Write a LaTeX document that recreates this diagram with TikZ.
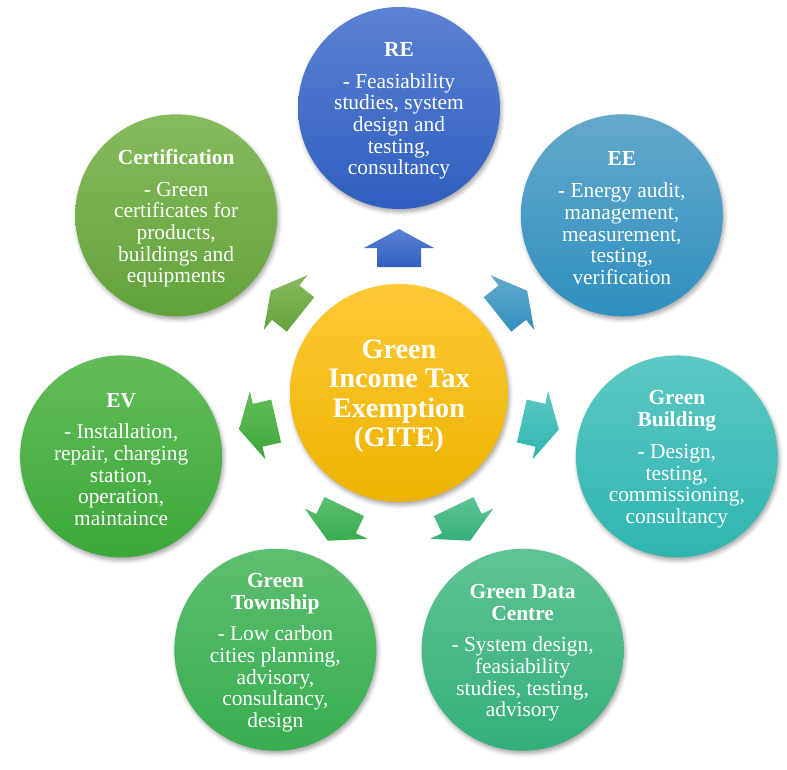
\documentclass[tikz,border=0pt]{standalone}
\usepackage{fontspec}
\setmainfont{Liberation Serif}
\usetikzlibrary{calc,shadows.blur}
\definecolor{reT}{HTML}{5B83D3}\definecolor{reB}{HTML}{2E5EBF}
\definecolor{eeT}{HTML}{63A9CC}\definecolor{eeB}{HTML}{2F8FBF}
\definecolor{gbT}{HTML}{5CC8C3}\definecolor{gbB}{HTML}{2FB5B0}
\definecolor{gdT}{HTML}{60C494}\definecolor{gdB}{HTML}{33AF7A}
\definecolor{gtT}{HTML}{5DBF71}\definecolor{gtB}{HTML}{38AD4E}
\definecolor{evT}{HTML}{63BC59}\definecolor{evB}{HTML}{3CA839}
\definecolor{ceT}{HTML}{87BB5D}\definecolor{ceB}{HTML}{62A23A}
\definecolor{cT}{HTML}{FFC935}\definecolor{cB}{HTML}{ECB300}
\begin{document}
\begin{tikzpicture}[x=1pt,y=-1pt,
  bubble/.style={circle, minimum size=202pt, inner sep=0pt,
    blur shadow={shadow xshift=1.5pt, shadow yshift=-3pt, shadow blur radius=4pt, shadow opacity=35}},
  hub/.style={bubble, minimum size=218pt},
  bubbletext/.style={text=white, align=center, inner sep=0pt, font=\fontsize{21.4}{21.7}\selectfont},
  hubtext/.style={bubbletext, font=\bfseries\fontsize{28.3}{29.5}\selectfont},
  blockarrow/.style={draw=none}]
\useasboundingbox (0,0) rectangle (787,769);
\node[hub, top color=cT, bottom color=cB] (c) at (399,393) {};
\node[hubtext] (c-t) at ([yshift=-3pt]c.center) {Green\\Income Tax\\Exemption\\(GITE)};
\node[bubble, top color=reT, bottom color=reB] (re) at ($(c)+(90:285pt)$) {};
\node[bubble, top color=eeT, bottom color=eeB] (ee) at ($(c)+(38.571:285pt)$) {};
\node[bubble, top color=gbT, bottom color=gbB] (gb) at ($(c)+(-12.857:285pt)$) {};
\node[bubble, top color=gdT, bottom color=gdB] (gd) at ($(c)+(-64.286:285pt)$) {};
\node[bubble, top color=gtT, bottom color=gtB] (gt) at ($(c)+(-115.714:285pt)$) {};
\node[bubble, top color=evT, bottom color=evB] (ev) at ($(c)+(-167.143:285pt)$) {};
\node[bubble, top color=ceT, bottom color=ceB] (ce) at ($(c)+(141.429:285pt)$) {};
\node[bubbletext] (re-t) at ([yshift=-3pt]re.center)
  {\textbf{RE}\\[10pt]- Feasiability\\studies, system\\design and\\testing,\\consultancy};
\node[bubbletext] (ee-t) at ([yshift=-3pt]ee.center)
  {\textbf{EE}\\[10pt]- Energy audit,\\management,\\measurement,\\testing,\\verification};
\node[bubbletext] (gb-t) at ([yshift=-3pt]gb.center)
  {\textbf{Green}\\\textbf{Building}\\[10pt]- Design,\\testing,\\commissioning,\\consultancy};
\node[bubbletext] (gd-t) at ([yshift=-3pt]gd.center)
  {\textbf{Green Data}\\\textbf{Centre}\\[10pt]- System design,\\feasiability\\studies, testing,\\advisory};
\node[bubbletext] (gt-t) at ([yshift=-3pt]gt.center)
  {\textbf{Green}\\\textbf{Township}\\[10pt]- Low carbon\\cities planning,\\advisory,\\consultancy,\\design};
\node[bubbletext] (ev-t) at ([yshift=-3pt]ev.center)
  {\textbf{EV}\\[10pt]- Installation,\\repair, charging\\station,\\operation,\\maintaince};
\node[bubbletext] (ce-t) at ([yshift=-3pt]ce.center)
  {\textbf{Certification}\\[10pt]- Green\\certificates for\\products,\\buildings and\\equipments};
\foreach \a/\t/\b in {90/reT/reB, 38.571/eeT/eeB, -12.857/gbT/gbB, -64.286/gdT/gdB,
    -115.714/gtT/gtB, -167.143/evT/evB, 141.429/ceT/ceB}{
  \path[blockarrow, top color=\t, bottom color=\b, shift={(c.center)}, rotate=\a]
    (126,-22) -- (145,-22) -- (145,-35) -- (164,0) -- (145,35) -- (145,22) -- (126,22) -- cycle;
}
\end{tikzpicture}
\end{document}
